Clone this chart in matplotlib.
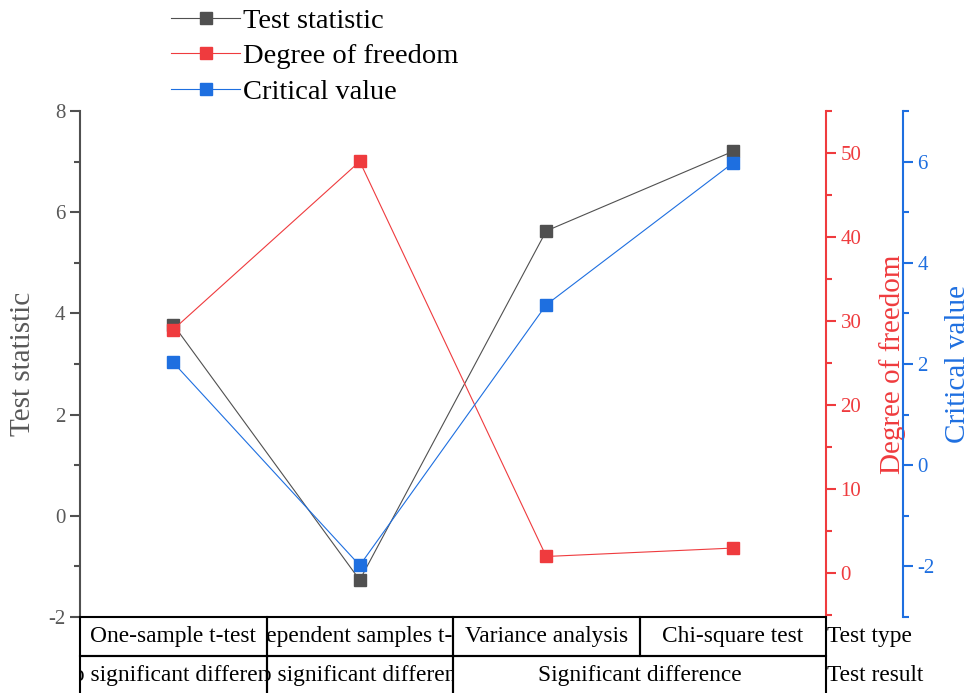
import matplotlib.pyplot as plt
from matplotlib.patches import Rectangle
from matplotlib.ticker import MultipleLocator

plt.rcParams['font.family'] = ['Liberation Serif', 'DejaVu Serif']
plt.rcParams['axes.unicode_minus'] = False

# data
test_types = ['One-sample t-test', 'Independent samples t-test',
              'Variance analysis', 'Chi-square test']
test_stat = [3.78, -1.27, 5.63, 7.2]
dof = [29, 49, 2, 3]
critical = [2.03, -1.98, 3.17, 5.97]
results = ['No significant difference', 'No significant difference',
           'Significant difference']
result_spans = [(1, 1), (2, 2), (3, 4)]

c_black = '#505050'
c_red = '#EF3B3E'
c_blue = '#1E6FE0'

W, H = 973, 693


def box(l, t, r, b):
    return [l / W, 1 - b / H, (r - l) / W, (b - t) / H]


fig = plt.figure(figsize=(W / 100, H / 100), dpi=100)
ax = fig.add_axes(box(80, 111, 826, 617))
ax2 = ax.twinx()
ax3 = ax.twinx()
ax3.spines['right'].set_position(('axes', (903 - 80) / 746))

x = list(range(1, len(test_types) + 1))
l1, = ax.plot(x, test_stat, '-s', color=c_black, lw=0.8, ms=9, label='Test statistic')
l2, = ax2.plot(x, dof, '-s', color=c_red, lw=0.8, ms=9, label='Degree of freedom')
l3, = ax3.plot(x, critical, '-s', color=c_blue, lw=0.8, ms=9, label='Critical value')

ax.set_xlim(0.5, 4.5)
ax.set_ylim(-2, 8)
ax2.set_ylim(-5.2, 55)
ax3.set_ylim(-3, 7)

for a in (ax, ax2, ax3):
    for s in ('top', 'bottom'):
        a.spines[s].set_visible(False)
    a.set_xticks([])
ax.spines['right'].set_visible(False)
ax2.spines['left'].set_visible(False)
ax3.spines['left'].set_visible(False)

ax.spines['left'].set_color(c_black)
ax.spines['left'].set_linewidth(1.5)
ax.yaxis.set_major_locator(MultipleLocator(2))
ax.yaxis.set_minor_locator(MultipleLocator(1))
ax.tick_params(axis='y', which='major', length=7, width=1.5, color=c_black,
               labelcolor='#595959', labelsize=15)
ax.tick_params(axis='y', which='minor', length=4, width=1.5, color=c_black)
ax.set_ylabel('Test statistic', fontsize=21, color='#595959', labelpad=9)

for a, c, major, minor, label, pad in ((ax2, c_red, 10, 5, 'Degree of freedom', 13),
                                       (ax3, c_blue, 2, 1, 'Critical value', 7)):
    a.spines['right'].set_color(c)
    a.spines['right'].set_linewidth(1.5)
    a.yaxis.set_major_locator(MultipleLocator(major))
    a.yaxis.set_minor_locator(MultipleLocator(minor))
    a.tick_params(axis='y', which='major', length=7, width=1.5, color=c,
                  labelcolor=c, labelsize=15)
    a.tick_params(axis='y', which='minor', length=4, width=1.5, color=c)
    a.set_ylabel(label, fontsize=21, color=c, labelpad=pad)

fig.legend(handles=[l1, l2, l3], loc='upper left',
           bbox_to_anchor=(160 / W, 1.005), frameon=False, fontsize=20.5,
           handlelength=2.4, handletextpad=0.1, labelspacing=0.33,
           borderaxespad=0.0)

# table under the plot
tab = fig.add_axes(box(80, 617, 826, 695))
tab.set_xlim(0.5, 4.5)
tab.set_ylim(0, 2)
tab.axis('off')


def cell(x0, x1, y0, text):
    r = Rectangle((x0, y0), x1 - x0, 1, fill=False, ec='black', lw=1.5,
                  clip_on=False)
    tab.add_patch(r)
    t = tab.text((x0 + x1) / 2, y0 + 0.5, text, ha='center', va='center',
                 fontsize=16.8)
    t.set_clip_on(True)
    t.set_clip_path(Rectangle((x0, y0), x1 - x0, 1, transform=tab.transData))


for i, name in enumerate(test_types):
    cell(x[i] - 0.5, x[i] + 0.5, 1, name)
for res, (a, b) in zip(results, result_spans):
    cell(a - 0.5, b + 0.5, 0, res)

tab.text(4.505, 1.5, 'Test type', ha='left', va='center', fontsize=16.8, clip_on=False)
tab.text(4.505, 0.5, 'Test result', ha='left', va='center', fontsize=16.8, clip_on=False)

fig.savefig('out.png', dpi=100)
